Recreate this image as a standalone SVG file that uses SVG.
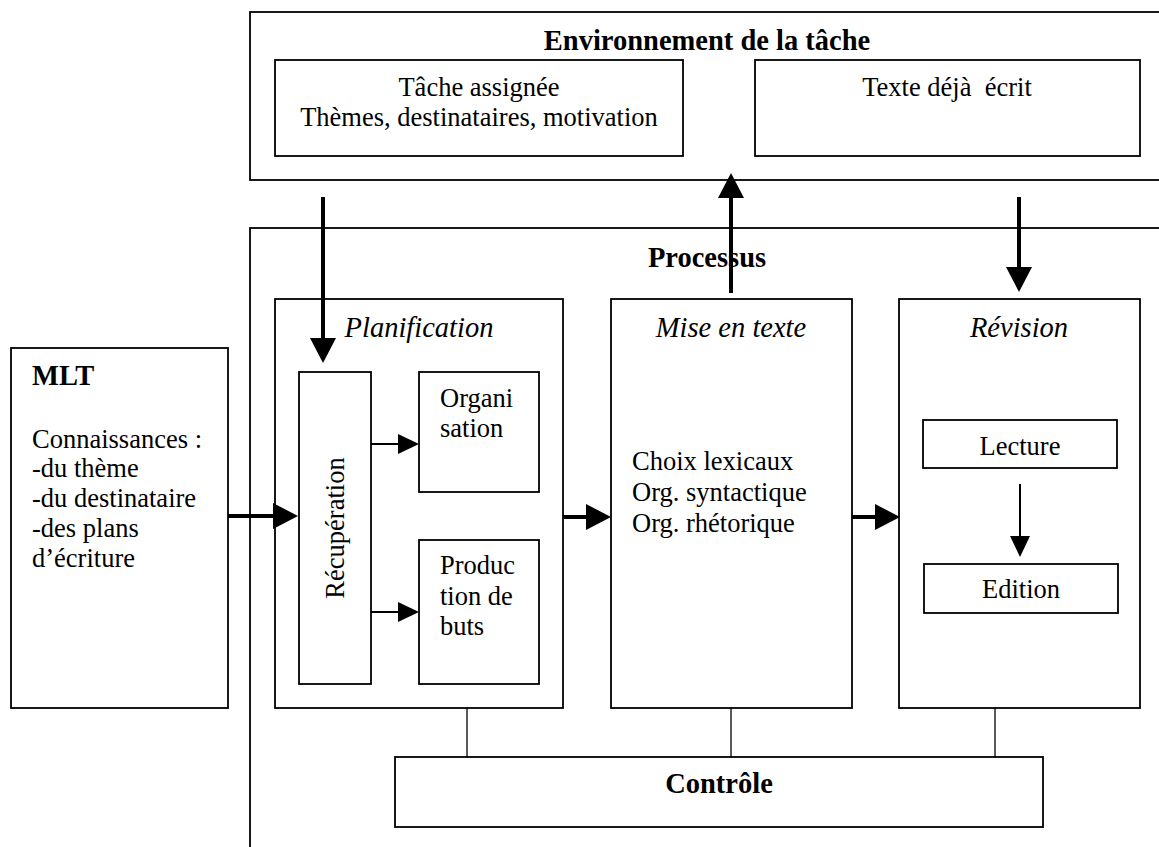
<svg xmlns="http://www.w3.org/2000/svg" width="1159" height="847" viewBox="0 0 1159 847">
<style>
  .box { fill: #fff; stroke: #000; stroke-width: 1.8; }
  .frame { fill: none; stroke: #000; stroke-width: 1.8; }
  .t { font-family: "Liberation Serif", "Times New Roman", serif; font-size: 26.5px; fill: #000; }
  .b { font-family: "Liberation Serif", "Times New Roman", serif; font-size: 28.5px; font-weight: bold; fill: #000; }
  .i { font-family: "Liberation Serif", "Times New Roman", serif; font-size: 28.5px; font-style: italic; fill: #000; }
  .c { text-anchor: middle; }
  .thick { stroke: #000; stroke-width: 4; fill: none; }
  .thin { stroke: #000; stroke-width: 2; fill: none; }
  .link { stroke: #000; stroke-width: 1.3; fill: none; }
</style>
<defs>
  <marker id="big" markerUnits="userSpaceOnUse" markerWidth="26" markerHeight="26" refX="0" refY="13" orient="auto" overflow="visible">
    <path d="M0,0 L25,13 L0,26 Z" fill="#000"/>
  </marker>
  <marker id="small" markerUnits="userSpaceOnUse" markerWidth="21" markerHeight="20" refX="0" refY="10" orient="auto" overflow="visible">
    <path d="M0,0 L21,10 L0,20 Z" fill="#000"/>
  </marker>
</defs>
<rect width="1159" height="847" fill="#fff"/>

<g id="environnement">
  <rect class="frame" x="250" y="12" width="930" height="168"/>
  <text class="b c" x="707" y="50">Environnement de la tâche</text>
</g>
<g id="tache-assignee">
  <rect class="box" x="275" y="60" width="408" height="96"/>
  <text class="t c" x="479" y="96">Tâche assignée</text>
  <text class="t c" x="479" y="126">Thèmes, destinataires, motivation</text>
</g>
<g id="texte-deja-ecrit">
  <rect class="box" x="755" y="60" width="385" height="96"/>
  <text class="t c" x="947" y="96" xml:space="preserve">Texte déjà  écrit</text>
</g>

<g id="processus">
  <rect class="frame" x="250" y="228" width="940" height="640"/>
  <text class="b c" x="707" y="267">Processus</text>
</g>

<g id="mlt">
  <rect class="box" x="11" y="348" width="217" height="360"/>
  <text class="b" x="32" y="385">MLT</text>
  <text class="t" x="32" y="448">Connaissances :</text>
  <text class="t" x="32" y="477">-du thème</text>
  <text class="t" x="32" y="507">-du destinataire</text>
  <text class="t" x="32" y="537">-des plans</text>
  <text class="t" x="32" y="567">d’écriture</text>
</g>

<g id="planification">
  <rect class="box" x="275" y="299" width="288" height="409"/>
  <text class="i c" x="419" y="337">Planification</text>
</g>
<g id="recuperation">
  <rect class="box" x="299" y="372" width="72" height="312"/>
  <text class="t c" transform="translate(344,528) rotate(-90)" x="0" y="0">Récupération</text>
</g>
<g id="organisation">
  <rect class="box" x="419" y="372" width="120" height="120"/>
  <text class="t" x="440" y="407">Organi</text>
  <text class="t" x="440" y="437">sation</text>
</g>
<g id="production-de-buts">
  <rect class="box" x="419" y="540" width="120" height="144"/>
  <text class="t" x="440" y="574">Produc</text>
  <text class="t" x="440" y="605">tion de</text>
  <text class="t" x="440" y="635">buts</text>
</g>

<g id="mise-en-texte">
  <rect class="box" x="611" y="299" width="241" height="409"/>
  <text class="i c" x="731" y="337">Mise en texte</text>
  <text class="t" x="632" y="470">Choix lexicaux</text>
  <text class="t" x="632" y="501">Org. syntactique</text>
  <text class="t" x="632" y="532">Org. rhétorique</text>
</g>

<g id="revision">
  <rect class="box" x="899" y="299" width="241" height="409"/>
  <text class="i c" x="1019" y="337">Révision</text>
</g>
<g id="lecture">
  <rect class="box" x="923" y="420" width="194" height="48"/>
  <text class="t c" x="1020" y="455">Lecture</text>
</g>
<g id="edition">
  <rect class="box" x="924" y="564" width="194" height="49"/>
  <text class="t c" x="1021" y="598">Edition</text>
</g>

<g id="controle">
  <rect class="box" x="395" y="757" width="648" height="70"/>
  <text class="b c" x="719" y="793">Contrôle</text>
</g>

<g id="connectors">
  <line class="thick" x1="323" y1="197" x2="323" y2="338" marker-end="url(#big)"/>
  <line class="thick" x1="731" y1="293" x2="731" y2="198" marker-end="url(#big)"/>
  <line class="thick" x1="1019" y1="197" x2="1019" y2="267" marker-end="url(#big)"/>
  <line class="thick" x1="228" y1="516" x2="273" y2="516" marker-end="url(#big)"/>
  <line class="thick" x1="563" y1="517" x2="586" y2="517" marker-end="url(#big)"/>
  <line class="thick" x1="852" y1="517" x2="875" y2="517" marker-end="url(#big)"/>
  <line class="thin" x1="371" y1="444" x2="398" y2="444" marker-end="url(#small)"/>
  <line class="thin" x1="371" y1="612" x2="398" y2="612" marker-end="url(#small)"/>
  <line class="thin" x1="1020" y1="484" x2="1020" y2="536" marker-end="url(#small)"/>
  <line class="link" x1="467" y1="708" x2="467" y2="757"/>
  <line class="link" x1="731" y1="708" x2="731" y2="757"/>
  <line class="link" x1="995" y1="708" x2="995" y2="757"/>
</g>
</svg>
